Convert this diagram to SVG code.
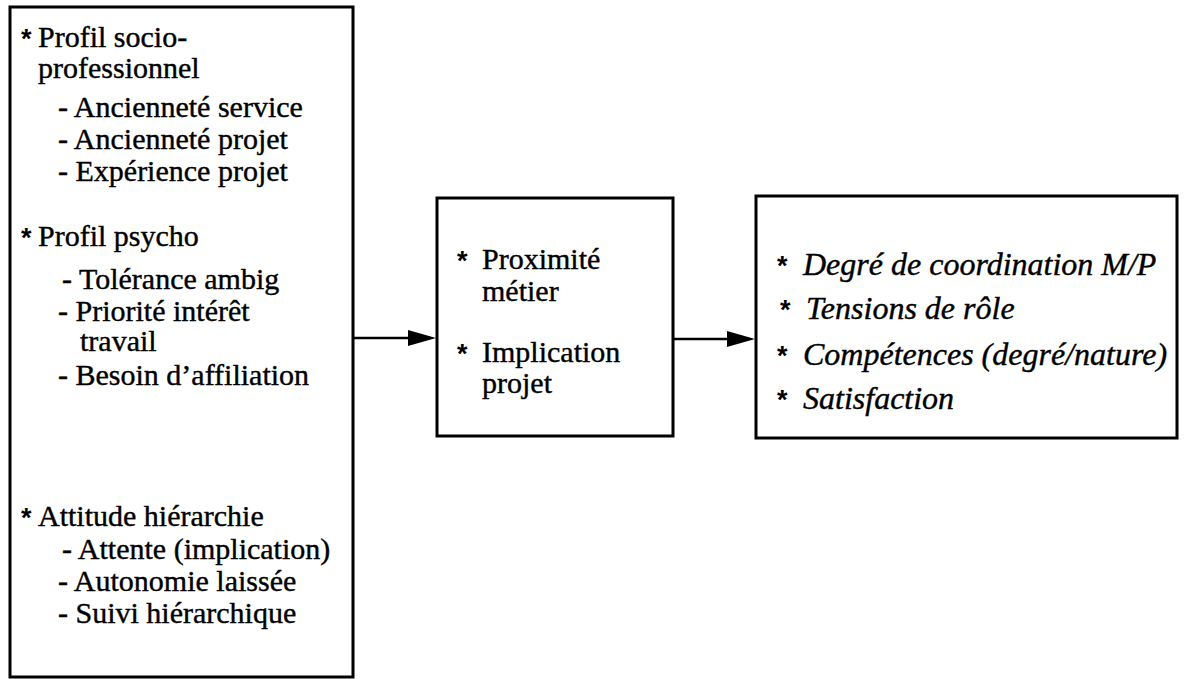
<svg xmlns="http://www.w3.org/2000/svg" width="1191" height="679" viewBox="0 0 1191 679">
<defs>
<style>
.box{fill:#fff;stroke:#000;stroke-width:3}
.t{font-family:"Liberation Serif","Times New Roman",serif;font-size:30px;fill:#000;stroke:#000;stroke-width:0.4}
.i{font-style:italic;font-size:32px}
.a{font-family:"Liberation Sans",Arial,sans-serif;font-weight:bold;font-size:27px;stroke-width:0}
.conn{stroke:#000;stroke-width:2.5;fill:none}
</style>
</defs>
<rect width="1191" height="679" fill="#fff"/>
<g id="node-left">
<rect class="box" x="10" y="7" width="343" height="670"/>
<text class="t"><tspan class="a" x="21" y="48">*</tspan><tspan x="38" y="47">Profil socio-</tspan></text>
<text class="t" x="38" y="78">professionnel</text>
<text class="t" x="58" y="117">- Ancienneté service</text>
<text class="t" x="58" y="149">- Ancienneté projet</text>
<text class="t" x="58" y="181">- Expérience projet</text>
<text class="t"><tspan class="a" x="21" y="247">*</tspan><tspan x="38" y="246">Profil psycho</tspan></text>
<text class="t" x="62" y="289">- Tolérance ambig</text>
<text class="t" x="58" y="321">- Priorité intérêt</text>
<text class="t" x="80" y="351">travail</text>
<text class="t" x="58" y="385">- Besoin d’affiliation</text>
<text class="t"><tspan class="a" x="21" y="527">*</tspan><tspan x="38" y="526">Attitude hiérarchie</tspan></text>
<text class="t" x="62" y="559">- Attente (implication)</text>
<text class="t" x="58" y="591">- Autonomie laissée</text>
<text class="t" x="58" y="623">- Suivi hiérarchique</text>
</g>
<g id="node-middle">
<rect class="box" x="437" y="198" width="236" height="238"/>
<text class="t"><tspan class="a" x="457" y="270">*</tspan><tspan x="482" y="269">Proximité</tspan></text>
<text class="t" x="482" y="301">métier</text>
<text class="t"><tspan class="a" x="457" y="363">*</tspan><tspan x="482" y="362">Implication</tspan></text>
<text class="t" x="482" y="393">projet</text>
</g>
<g id="node-right">
<rect class="box" x="756" y="196" width="421" height="242"/>
<text class="t"><tspan class="a" x="777" y="275">*</tspan><tspan class="i" x="803" y="275">Degré de coordination M/P</tspan></text>
<text class="t"><tspan class="a" x="780" y="319">*</tspan><tspan class="i" x="806" y="319">Tensions de rôle</tspan></text>
<text class="t"><tspan class="a" x="777" y="365">*</tspan><tspan class="i" x="803" y="365">Compétences (degré/nature)</tspan></text>
<text class="t"><tspan class="a" x="777" y="409">*</tspan><tspan class="i" x="803" y="409">Satisfaction</tspan></text>
</g>
<g id="connectors">
<line class="conn" x1="354" y1="338" x2="430" y2="338"/>
<path d="M408,330 L436,338 L408,346 Z" fill="#000"/>
<line class="conn" x1="674" y1="339" x2="749" y2="339"/>
<path d="M727,331 L755,339 L727,347 Z" fill="#000"/>
</g>
</svg>
